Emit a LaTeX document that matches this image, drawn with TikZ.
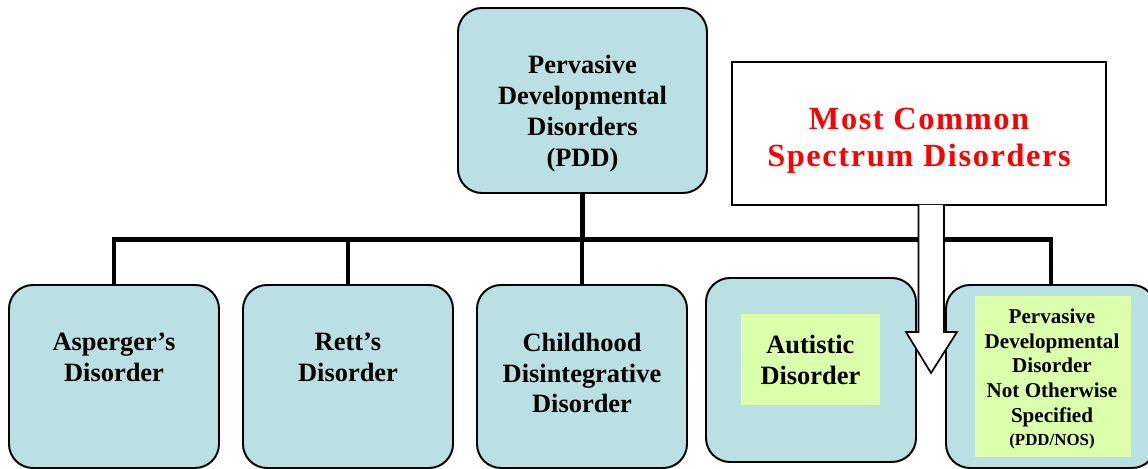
\documentclass[tikz,border=0pt]{standalone}
\usepackage{fontspec}
\setmainfont{Liberation Serif}
\usetikzlibrary{calc}
\definecolor{boxblue}{HTML}{BAE0E3}
\definecolor{boxgreen}{HTML}{DBFFAA}
\newcommand{\bigtxt}{\bfseries\fontsize{18.8}{22}\selectfont}

\begin{document}
\begin{tikzpicture}[
		disorder/.style={draw=black, line width=1.4pt, fill=boxblue, rounded corners=0.6cm,
			minimum width=5.25cm, minimum height=4.575cm, inner sep=0pt},
		highlight/.style={fill=boxgreen, inner sep=0pt},
		label text/.style={align=center, inner sep=0pt, font=\bigtxt},
		bus/.style={line width=3.5pt}]
	\useasboundingbox (0, 0) rectangle (28.7, 11.725);
	
	\node[disorder, minimum width=6.225cm, minimum height=4.625cm] (pdd) at (14.5625, 9.2125) {};
	\node[label text] (pdd-t) at (14.5625, 8.89) {Pervasive\\Developmental\\Disorders\\(PDD)};
	
	\node[disorder] (asp) at (2.85, 2.3125) {};
	\node[disorder] (rett) at (8.7, 2.3125) {};
	\node[disorder] (child) at (14.55, 2.3125) {};
	\node[disorder, minimum height=4.6cm] (aut) at (20.275, 2.475) {};
	\node[disorder] (nos) at (26.275, 2.3125) {};
	
	\node[highlight, minimum width=3.475cm, minimum height=2.275cm] (aut-g) at (20.2625, 2.7375) {};
	\node[highlight, minimum width=3.9cm, minimum height=4.025cm] (nos-g) at (26.325, 2.3125) {};
	
	\node[label text] (asp-t) at (2.85, 2.79) {Asperger's\\Disorder};
	\node[label text] (rett-t) at (8.7, 2.79) {Rett's\\Disorder};
	\node[label text] (child-t) at (14.55, 2.4) {Childhood\\Disintegrative\\Disorder};
	\node[label text] (aut-t) at (20.26, 2.725) {Autistic\\Disorder};
	\node[align=center, inner sep=0pt, font=\bfseries\fontsize{15}{17.5}\selectfont] (nos-t) at (26.3, 2.25)
		{Pervasive\\Developmental\\Disorder\\Not Otherwise\\Specified\\[-1pt]{\fontsize{12}{14}\selectfont(PDD/NOS)}};
	
	% tree lines
	\coordinate (bus) at (0, 5.7375);
	\draw[bus] (pdd.south) -- (pdd.south |- bus);
	\draw[bus] (asp.north) -- (asp.north |- bus) -- (nos.north |- bus) -- (nos.north);
	\draw[bus] (rett.north) -- (rett.north |- bus);
	\draw[bus] (child.north) -- (child.north |- bus);
	
	\node[draw=black, line width=1.2pt, fill=white, minimum width=9.35cm, minimum height=3.575cm]
		(common) at (22.975, 8.3875) {};
	\node[align=center, inner sep=0pt, text=red, font=\bfseries\fontsize{23}{26.3}\selectfont\addfontfeature{LetterSpace=5}]
		(common-t) at (22.975, 8.2125) {Most Common\\Spectrum Disorders};
	
	% arrow
	\draw[line width=1.2pt, fill=white, line join=miter]
		(22.9625, 6.6) -- (22.9625, 3.425) -- (22.65, 3.425) -- (23.275, 2.4)
		-- (23.925, 3.425) -- (23.6, 3.425) -- (23.6, 6.6);
\end{tikzpicture}
\end{document}
